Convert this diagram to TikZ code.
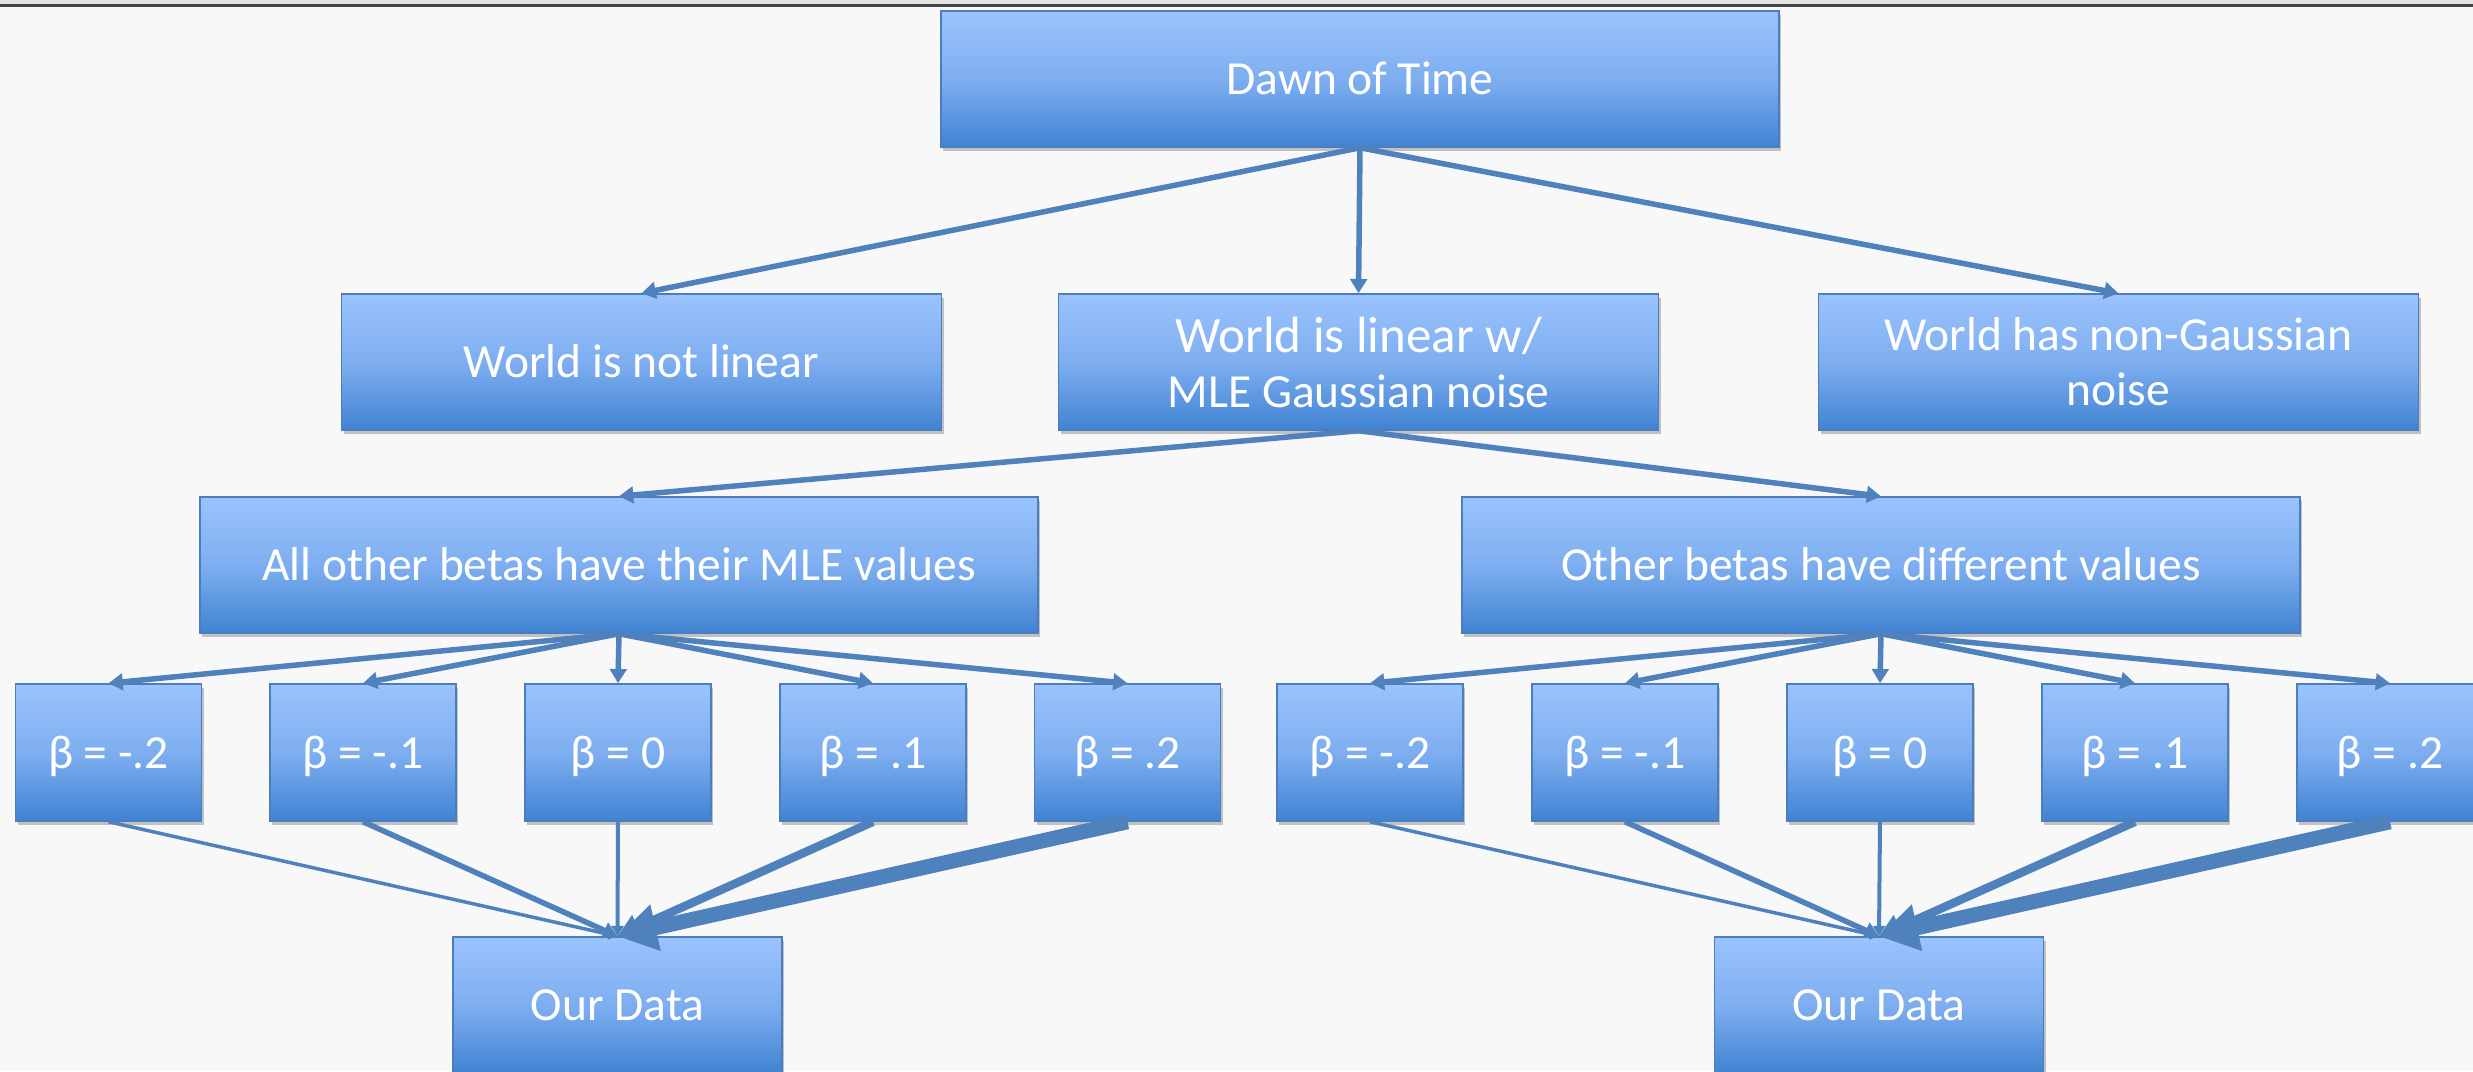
\documentclass[tikz,border=0pt]{standalone}
\usepackage{fontspec}
\setmainfont{Carlito}
\usetikzlibrary{arrows.meta,shadows}
\definecolor{bg}{RGB}{248,248,248}
\definecolor{lc}{RGB}{79,129,189}
\definecolor{btop}{RGB}{155,195,253}
\definecolor{bmid}{RGB}{126,174,240}
\definecolor{bbot}{RGB}{64,131,210}
\definecolor{bord}{RGB}{74,126,190}
\definecolor{topbar}{RGB}{228,228,228}
\definecolor{topline}{RGB}{70,70,70}
\begin{document}
\begin{tikzpicture}[x=1pt,y=-1pt,
  box/.style={rectangle, draw=bord, line width=1.5pt,
    top color=btop, bottom color=bbot, middle color=bmid,
    text=white, font=\fontsize{47.5}{55}\selectfont, inner sep=0pt,
    drop shadow={shadow xshift=2pt, shadow yshift=-4pt, opacity=0.22, fill=black}},
  one/.style={text height=31pt, text depth=0pt},
  two/.style={align=center},
  bigbox/.style={minimum width=838pt, minimum height=136pt},
  midbox/.style={minimum width=600pt, minimum height=136pt},
  betabox/.style={minimum width=186pt, minimum height=137pt},
  databox/.style={minimum width=329pt, minimum height=136pt},
  conn/.style={draw=lc, line width=5.5pt, -{Triangle[width=0pt 3.0, length=0pt 2.6]}},
  wconn/.style={draw=lc, line width=#1, -{Triangle[width=0pt 3.0, length=0pt 2.6]}}
]
\clip (0,0) rectangle (2473,1071);
\fill[bg] (0,0) rectangle (2473,1071);
\fill[topbar] (0,0) rectangle (2473,4);
\draw[topline, line width=2.5pt] (0,5.5) -- (2473,5.5);

% level 0
\node[box, one, bigbox] (dawn) at (1360,79) {Dawn of Time};
% level 1
\node[box, one, midbox] (notlin) at (641.5,362) {World is not linear};
\node[box, two, midbox] (lin) at (1358.5,362) {{\fontsize{51}{55}\selectfont World is linear w/}\\MLE Gaussian noise};
\node[box, two, midbox] (nongauss) at (2118.5,362) {World has non-Gaussian\\noise};
% level 2
\node[box, one, bigbox] (mle) at (619,565) {All other betas have their MLE values};
\node[box, one, bigbox] (other) at (1881,565) {Other betas have different values};
% level 3
\node[box, one, betabox] (La) at (108.5,752.5) {β = -.2};
\node[box, one, betabox] (Lb) at (363,752.5) {β = -.1};
\node[box, one, betabox] (Lc) at (618,752.5) {β = 0};
\node[box, one, betabox] (Ld) at (873,752.5) {β = .1};
\node[box, one, betabox] (Le) at (1127.5,752.5) {β = .2};
\node[box, one, betabox] (Ra) at (1370,752.5) {β = -.2};
\node[box, one, betabox] (Rb) at (1625,752.5) {β = -.1};
\node[box, one, betabox] (Rc) at (1880,752.5) {β = 0};
\node[box, one, betabox] (Rd) at (2135,752.5) {β = .1};
\node[box, one, betabox] (Re) at (2390,752.5) {β = .2};
% level 4
\node[box, one, databox] (Ldata) at (617.5,1005) {Our Data};
\node[box, one, databox] (Rdata) at (1879,1005) {Our Data};

% connectors
\draw[conn] (dawn.south) -- (notlin.north);
\draw[conn] (dawn.south) -- (lin.north);
\draw[conn] (dawn.south) -- (nongauss.north);
\draw[conn] (lin.south) -- (mle.north);
\draw[conn] (lin.south) -- (other.north);
\foreach \n in {La,Lb,Lc,Ld,Le}{\draw[conn] (mle.south) -- (\n.north);}
\foreach \n in {Ra,Rb,Rc,Rd,Re}{\draw[conn] (other.south) -- (\n.north);}
\foreach \s/\w in {a/3.5pt,b/5.5pt,c/4pt,d/8.5pt,e/15pt}{
  \draw[wconn=\w] (L\s.south) -- (Ldata.north);
  \draw[wconn=\w] (R\s.south) -- (Rdata.north);
}
\end{tikzpicture}
\end{document}
